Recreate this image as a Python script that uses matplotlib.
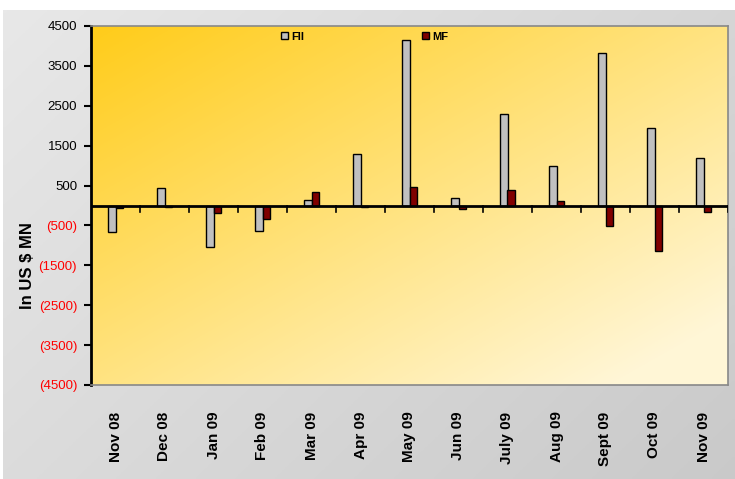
import matplotlib.pyplot as plt
import numpy as np
from matplotlib.patches import Patch

months = ["Nov 08", "Dec 08", "Jan 09", "Feb 09", "Mar 09", "Apr 09", "May 09",
          "Jun 09", "July 09", "Aug 09", "Sept 09", "Oct 09", "Nov 09"]
fii = [-660, 430, -1030, -640, 140, 1280, 4150, 180, 2290, 990, 3820, 1950, 1200]
mf = [-70, -30, -200, -340, 345, -45, 470, -80, 390, 105, -515, -1140, -160]
yticks = [-4500, -3500, -2500, -1500, -500, 500, 1500, 2500, 3500, 4500]

plt.rcParams['font.family'] = ['Liberation Sans', 'DejaVu Sans']

fig = plt.figure(figsize=(7.35, 4.79), dpi=100)
W, H = 735, 479

# grey panel behind everything
bg = fig.add_axes([3 / W, 0, 1 - 3 / W, 1 - 10 / H])
gx, gy = np.meshgrid(np.linspace(0, 1, 200), np.linspace(0, 1, 200))
g = 0.91 - 0.12 * (gx * 0.6 + gy * 0.4)
bg.imshow(np.dstack([g, g, g]), extent=[0, 1, 0, 1], aspect='auto', origin='upper')
bg.set_axis_off()

ax = fig.add_axes([91 / W, 1 - 385 / H, (728 - 91) / W, (385 - 26) / H])

# golden gradient plot area
t = np.clip(gx * 0.55 + gy * 0.55, 0, 1)
c0 = np.array([1.0, 0.80, 0.10])
c1 = np.array([1.0, 0.965, 0.84])
img = c0[None, None, :] * (1 - t[..., None]) + c1[None, None, :] * t[..., None]
ax.imshow(img, extent=[-0.5, len(months) - 0.5, -4500, 4500], aspect='auto',
          origin='upper', zorder=0)

x = np.arange(len(months))
w = 0.15
ax.bar(x - w / 2, fii, w, color='#C0C0C0', edgecolor='black', linewidth=1, zorder=3)
ax.bar(x + w / 2, mf, w, color='#800000', edgecolor='black', linewidth=1, zorder=3)

ax.set_xlim(-0.5, len(months) - 0.5)
ax.set_ylim(-4500, 4500)

ax.axhline(0, color='black', linewidth=2, zorder=4)
for b in np.arange(0.5, len(months) - 0.5 + 0.01, 1):
    ax.plot([b, b], [0, -170], color='black', linewidth=1.2, zorder=4)

for s in ['top', 'right', 'bottom']:
    ax.spines[s].set_color('#888888')
    ax.spines[s].set_linewidth(1.2)
ax.spines['left'].set_color('black')
ax.spines['left'].set_linewidth(2)

ax.set_yticks(yticks)
labels = [f"({abs(v)})" if v < 0 else str(v) for v in yticks]
ax.set_yticklabels(labels, fontsize=9.5)
for lab, v in zip(ax.get_yticklabels(), yticks):
    lab.set_color('red' if v < 0 else 'black')
ax.tick_params(axis='y', length=5, width=1.5, color='black', pad=5)

ax.set_xticks(x)
ax.set_xticklabels(months, rotation=90, fontsize=11, fontweight='bold')
ax.tick_params(axis='x', length=0, pad=19)

fig.text(27 / W, 1 - 266 / H, "In US $ MN", rotation=90, fontsize=12,
         fontweight='bold', ha='center', va='center')

handles = [Patch(facecolor='#C0C0C0', edgecolor='black'),
           Patch(facecolor='#800000', edgecolor='black')]
ax.legend(handles, ['FII', 'MF'], ncol=2, frameon=False,
          prop={'size': 8, 'weight': 'bold'},
          loc='center left', bbox_to_anchor=(0.29, 0.97),
          handlelength=0.6, handleheight=0.6, handletextpad=0.3,
          columnspacing=10.6, borderpad=0)

fig.savefig('out.png', dpi=100)
